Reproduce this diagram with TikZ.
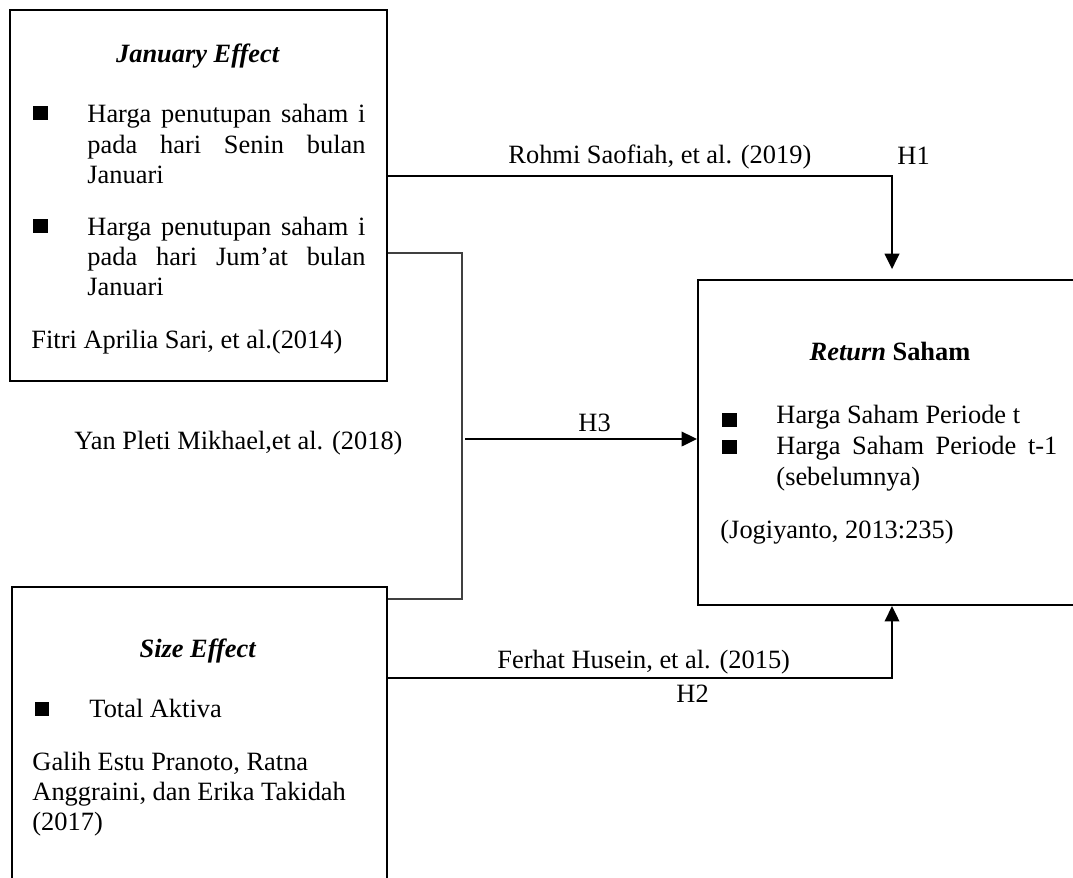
\documentclass[tikz,border=0pt]{standalone}
\usepackage{fontspec}
\setmainfont{Liberation Serif}
\usetikzlibrary{arrows.meta,fit}
\begin{document}
\begin{tikzpicture}[x=0.4545pt,y=-0.4545pt,
  box/.style={draw,line width=0.9pt,rectangle,inner sep=0pt},
  txt/.style={anchor=base west,inner sep=0pt,font=\fontsize{12}{13.8}\selectfont},
  ctxt/.style={anchor=base,inner sep=0pt,font=\fontsize{12}{13.8}\selectfont},
  bul/.style={fill=black,inner sep=0pt,minimum size=6.4pt,rectangle},
  conn/.style={line width=0.9pt},
  arr/.style={line width=0.9pt,-{Triangle[length=7pt,width=6.6pt]}},
  thinline/.style={line width=0.5pt,draw=black!75}]
\useasboundingbox (0,0) rectangle (1073,877);
\clip (0,0) rectangle (1073,877);
% box corners
\coordinate (j1) at (10,10);   \coordinate (j2) at (387,381);
\coordinate (s1) at (12,587);  \coordinate (s2) at (387,900);
\coordinate (r1) at (698,280); \coordinate (r2) at (1086,605);
\node[box,fit=(j1)(j2)] (jan) {};
\node[box,fit=(s1)(s2)] (size) {};
\node[box,fit=(r1)(r2)] (ret) {};
% January Effect contents
\node[ctxt] (jt) at (198,62) {\textbf{\textit{January Effect}}};
\node[bul] (jb1) at (40.5,113) {};
\node[txt] (ja1) at (87,122) {\makebox[126.4pt][s]{Harga penutupan saham i}};
\node[txt] (ja2) at (87,153) {\makebox[126.4pt][s]{pada hari Senin bulan}};
\node[txt] (ja3) at (87,183) {Januari};
\node[bul] (jb2) at (40.5,226) {};
\node[txt] (jb1a) at (87,235) {\makebox[126.4pt][s]{Harga penutupan saham i}};
\node[txt] (jb2a) at (87,265) {\makebox[126.4pt][s]{pada hari Jum’at bulan}};
\node[txt] (jb3a) at (87,295) {Januari};
\node[txt] (jref) at (31,348) {Fitri Aprilia Sari, et al.(2014)};
% Size Effect contents
\node[ctxt] (st) at (198,657) {\textbf{\textit{Size Effect}}};
\node[bul] (sb1) at (42,709) {};
\node[txt] (sa1) at (89,717) {Total Aktiva};
\node[txt] (sr1) at (32,770) {Galih Estu Pranoto, Ratna};
\node[txt] (sr2) at (32,800) {Anggraini, dan Erika Takidah};
\node[txt] (sr3) at (32,830) {(2017)};
% Return Saham contents
\node[ctxt] (rt) at (890,360) {\textbf{\textit{Return} Saham}};
\node[bul] (rb1) at (729.5,420) {};
\node[txt] (ra1) at (776,423) {Harga Saham Periode t};
\node[bul] (rb2) at (729.5,447) {};
\node[txt] (ra2) at (776,454) {\makebox[127.7pt][s]{Harga Saham Periode t-1}};
\node[txt] (ra3) at (776,485) {(sebelumnya)};
\node[txt] (rref) at (720,538) {(Jogiyanto, 2013:235)};
% connectors
\coordinate (y1) at (0,176);
\coordinate (y2) at (0,678);
\coordinate (bt) at (462,253);
\coordinate (bb) at (462,599);
\coordinate (h3s) at (465,439);
\draw[arr,shorten >=4.5pt] (jan.east |- y1) -| (ret.north);
\draw[arr] (size.east |- y2) -| (ret.south);
\draw[thinline] (jan.east |- bt) -- (bt) -- (bb) -- (size.east |- bb);
\draw[arr] (h3s) -- (ret.west |- h3s);
% labels
\node[txt] (l1) at (508,163) {Rohmi Saofiah, et al. (2019)};
\node[txt] (lh1) at (897,164) {H1};
\node[txt] (lh3) at (578,431) {H3};
\node[txt] (l3) at (74,449) {Yan Pleti Mikhael,et al. (2018)};
\node[txt] (l2) at (497,668) {Ferhat Husein, et al. (2015)};
\node[txt] (lh2) at (676,702) {H2};
\end{tikzpicture}
\end{document}
